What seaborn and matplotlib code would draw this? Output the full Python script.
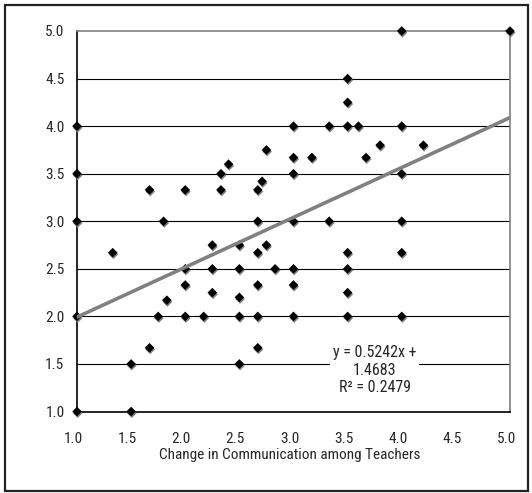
import matplotlib
matplotlib.use("Agg")
import matplotlib.pyplot as plt
import matplotlib.transforms as mtransforms
from matplotlib.patches import Rectangle
import seaborn as sns
import pandas as pd

# ---- data ----
comm_change = [1.0, 1.0, 1.0, 1.0, 1.0,
               1.33,
               1.5, 1.5,
               1.67, 1.67,
               1.75, 1.8, 1.83,
               2.0, 2.0, 2.0, 2.0,
               2.17,
               2.25, 2.25, 2.25,
               2.33, 2.33, 2.4,
               2.5, 2.5, 2.5, 2.5, 2.5,
               2.67, 2.67, 2.67, 2.67, 2.67, 2.67,
               2.71, 2.75, 2.75, 2.83,
               3.0, 3.0, 3.0, 3.0, 3.0, 3.0, 3.0,
               3.17, 3.33, 3.33,
               3.5, 3.5, 3.5, 3.5, 3.5, 3.5, 3.5,
               3.6, 3.67, 3.8,
               4.0, 4.0, 4.0, 4.0, 4.0, 4.0,
               4.2, 5.0]
outcome = [4.0, 3.5, 3.0, 2.0, 1.0,
           2.67,
           1.5, 1.0,
           3.33, 1.67,
           2.0, 3.0, 2.17,
           3.33, 2.5, 2.33, 2.0,
           2.0,
           2.75, 2.5, 2.25,
           3.5, 3.33, 3.6,
           2.75, 2.5, 2.2, 2.0, 1.5,
           3.33, 3.0, 2.67, 2.33, 2.0, 1.67,
           3.42, 3.75, 2.75, 2.5,
           4.0, 3.67, 3.5, 3.0, 2.5, 2.33, 2.0,
           3.67, 4.0, 3.0,
           4.5, 4.25, 4.0, 2.67, 2.5, 2.25, 2.0,
           4.0, 3.67, 3.8,
           5.0, 4.0, 3.5, 3.0, 2.67, 2.0,
           3.8, 5.0]
trend_slope = 0.5242
trend_intercept = 1.4683
trend_r2 = 0.2479
tick_values = [1.0, 1.5, 2.0, 2.5, 3.0, 3.5, 4.0, 4.5, 5.0]
tick_labels = ["1.0", "1.5", "2.0", "2.5", "3.0", "3.5", "4.0", "4.5", "5.0"]
x_label = "Change in Communication among Teachers"

df = pd.DataFrame({"x": comm_change, "y": outcome})

sns.set_style("white")
plt.rcParams["font.family"] = ["Roboto Condensed", "Archivo Narrow", "DejaVu Sans"]

fig = plt.figure(figsize=(5.32, 4.93), dpi=100)
ax = fig.add_axes([77 / 532, 1 - 411.5 / 493, 433 / 532, 380.5 / 493])

# shadow of markers
shadow = mtransforms.offset_copy(ax.transData, fig=fig, x=0.7, y=-1.7, units="dots")
sns.scatterplot(data=df, x="x", y="y", marker="D", s=24, color="#808080",
                edgecolor="none", linewidth=0, ax=ax, transform=shadow, zorder=3,
                clip_on=False)
sns.scatterplot(data=df, x="x", y="y", marker="D", s=24, color="black",
                edgecolor="none", linewidth=0, ax=ax, zorder=4, clip_on=False)

# trend line
ax.axline((0, trend_intercept), slope=trend_slope, color="#808080", lw=2.6, zorder=5)

ax.set_xlim(1.0, 5.0)
ax.set_ylim(1.0, 5.0)
ax.set_xticks(tick_values)
ax.set_xticklabels(tick_labels, fontsize=11)
ax.set_yticks(tick_values)
ax.set_yticklabels(tick_labels, fontsize=11)

ax.tick_params(axis="x", direction="in", length=5, width=0.8, color="black", pad=14.5)
ax.tick_params(axis="y", direction="in", length=0, pad=9)

# shift x tick labels slightly left, like the reference
shift = mtransforms.ScaledTranslation(-4 / 100, 0, fig.dpi_scale_trans)
for lbl in ax.get_xticklabels():
    lbl.set_transform(lbl.get_transform() + shift)

ax.yaxis.grid(True, color="black", lw=0.8)
ax.xaxis.grid(False)
ax.set_axisbelow(True)
ax.get_ygridlines()[-1].set_visible(False)
ax.get_ygridlines()[0].set_visible(False)

for side in ["top", "right"]:
    ax.spines[side].set_color("#808080")
    ax.spines[side].set_linewidth(1.2)
for side in ["left", "bottom"]:
    ax.spines[side].set_color("black")
    ax.spines[side].set_linewidth(1.2)

ax.set_xlabel(x_label, fontsize=11)
ax.xaxis.set_label_coords(0.491, -0.096)
ax.set_ylabel("")

eq = f"y = {trend_slope:.4f}x +\n{trend_intercept:.4f}\nR² = {trend_r2:.4f}"
ax.text(0.688, 0.109, eq, transform=ax.transAxes, ha="center", va="center",
        fontsize=11.5, linespacing=1.2, zorder=6,
        bbox=dict(facecolor="white", edgecolor="none", pad=2))

# outer chart border
fig.patches.append(Rectangle((4.5 / 532, 1 - 490.5 / 493), 523.5 / 532, 486 / 493,
                             transform=fig.transFigure, fill=False,
                             edgecolor="#222222", lw=1.6))

fig.savefig("out.png", dpi=100)
